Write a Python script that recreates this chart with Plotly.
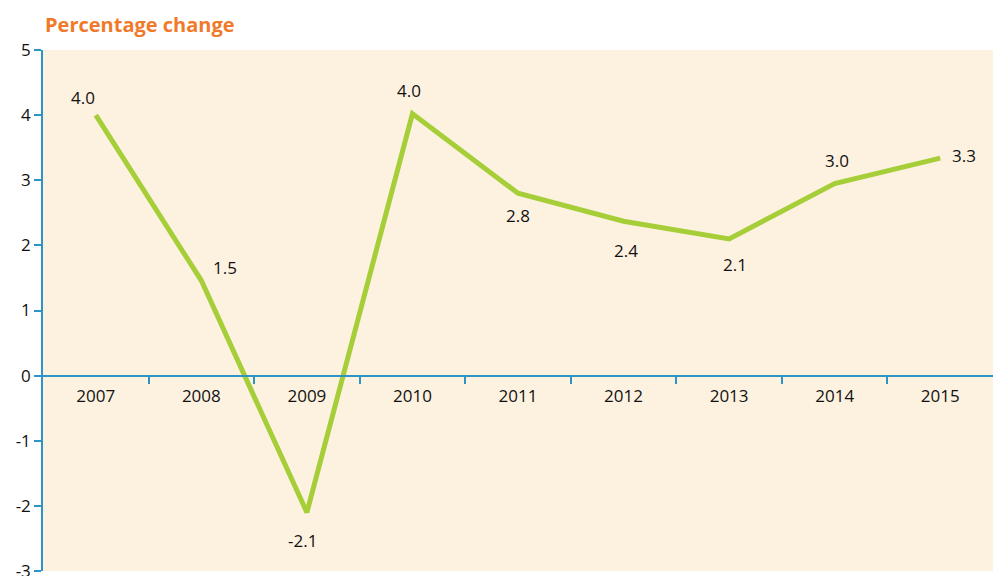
import plotly.graph_objects as go

# Annual percentage change
years = ['2007', '2008', '2009', '2010', '2011', '2012', '2013', '2014', '2015']
values = [4.0, 1.46, -2.1, 4.02, 2.8, 2.37, 2.1, 2.95, 3.34]
labels = ['4.0', '1.5', '-2.1', '4.0', '2.8', '2.4', '2.1', '3.0', '3.3']
y_ticks = [-3, -2, -1, 0, 1, 2, 3, 4, 5]
y_tick_text = ['-3', '-2', '-1', '0', '1', '2', '3', '4', '5']

# label offsets (px) from each point
label_dx = [-13, 24, -4, -3, 0, 2, 6, 2, 24]
label_dy = [18, 13, -28, 23, -22, -29, -26, 23, 3]

font_family = 'Open Sans, Noto Sans, sans-serif'
axis_blue = '#2E94C8'

fig = go.Figure()
fig.add_trace(go.Scatter(
    x=list(range(len(years))), y=values, mode='lines',
    line=dict(color='#A6CE39', width=5),
    hoverinfo='y', showlegend=False
))

for i, (v, lab, dx, dy) in enumerate(zip(values, labels, label_dx, label_dy)):
    fig.add_annotation(x=i, y=v, text=lab, showarrow=False,
                       xshift=dx, yshift=dy,
                       font=dict(size=17, color='#111111', family=font_family))

fig.add_annotation(x=0, y=1, xref='paper', yref='paper', xanchor='left', yanchor='bottom',
                   xshift=0, yshift=10, text='<b>Percentage change</b>', showarrow=False,
                   font=dict(size=20, color='#F07A2A', family=font_family))

fig.update_layout(
    width=993, height=576,
    margin=dict(l=43, r=0, t=50, b=5),
    paper_bgcolor='white',
    plot_bgcolor='#FDF2E0',
    font=dict(family=font_family, size=17, color='#111111'),
    xaxis=dict(
        range=[-0.5, 8.5],
        tickmode='array', tickvals=list(range(len(years))), ticktext=years,
        anchor='free', position=0.375, automargin=False,
        showline=True, linecolor=axis_blue, linewidth=1.5,
        ticks='', ticklabelstandoff=5, showgrid=False, zeroline=False, fixedrange=True,
        tickfont=dict(size=17),
    ),
    xaxis2=dict(
        range=[-0.5, 8.5], overlaying='x', anchor='free', position=0.375,
        tickmode='array', tickvals=[i + 0.5 for i in range(len(years) - 1)],
        showticklabels=False, ticks='outside', ticklen=7, tickcolor=axis_blue,
        tickwidth=1.5, showgrid=False, zeroline=False, showline=False,
        fixedrange=True, automargin=False,
    ),
    yaxis=dict(
        range=[-3, 5], tickmode='array', tickvals=y_ticks, ticktext=y_tick_text,
        showline=True, linecolor=axis_blue, linewidth=1.5, automargin=False,
        ticks='outside', ticklen=7, tickcolor=axis_blue, tickwidth=1.5,
        ticklabeloverflow='allow',
        showgrid=False, zeroline=False, fixedrange=True,
        tickfont=dict(size=17),
    ),
)
# invisible trace to show the boundary ticks on the second x axis
fig.add_trace(go.Scatter(x=[0], y=[None], xaxis='x2', showlegend=False, hoverinfo='skip'))

# drop the default page margin so the figure sits at the window's corner
fig.write_html('out.html', config={'displayModeBar': False},
               post_script="document.body.style.margin='0';")
